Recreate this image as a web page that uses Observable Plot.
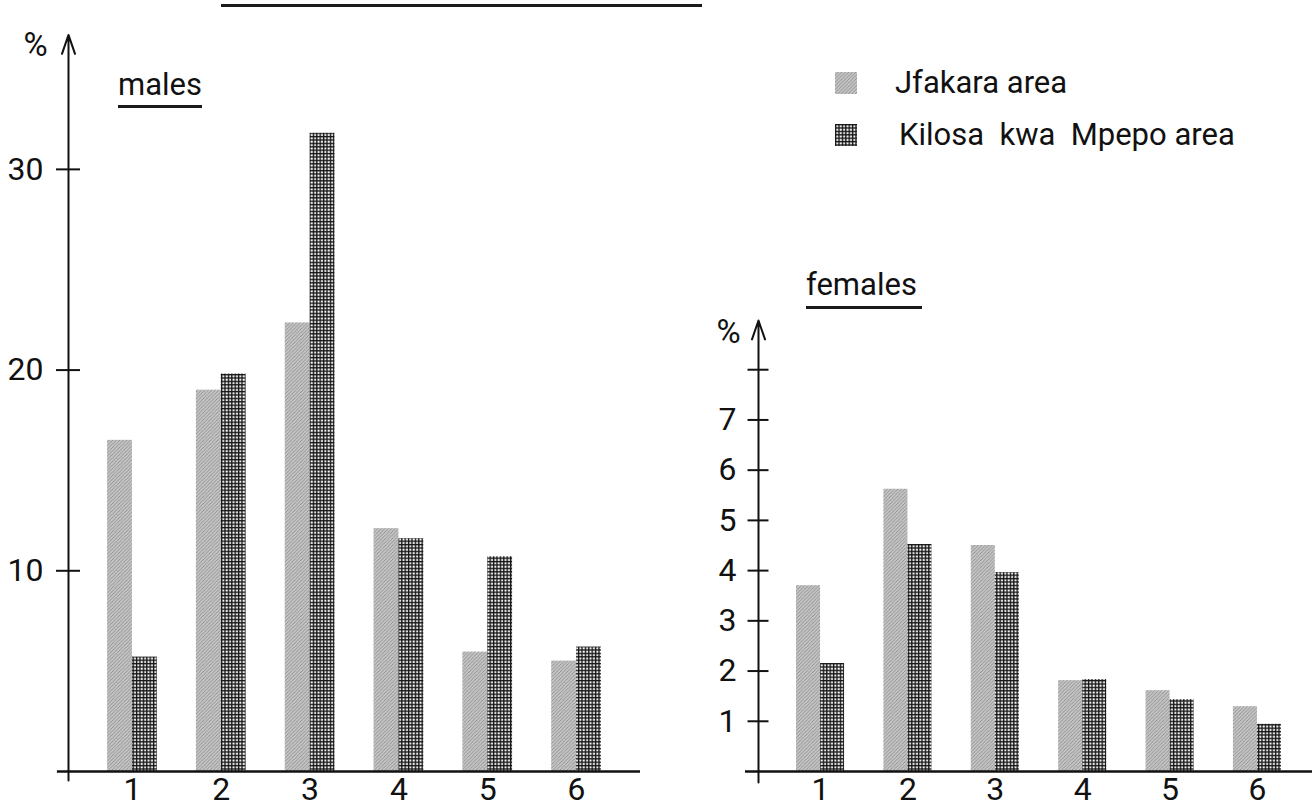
<!DOCTYPE html>
<html><head><meta charset="utf-8">
<script src="https://cdn.jsdelivr.net/npm/d3@7"></script>
<script src="https://cdn.jsdelivr.net/npm/@observablehq/plot@0.6"></script>
<style>
html,body{margin:0;padding:0;background:#fff;}
#root{position:relative;width:1312px;height:807px;overflow:hidden;font-family:Roboto,sans-serif;color:#111;}
.abs{position:absolute;}
.lbl{position:absolute;font-size:31px;line-height:31px;white-space:pre;color:#111;}
.uline{position:absolute;height:2.5px;background:#1a1a1a;}
.sw{position:absolute;width:22px;height:22px;}
</style></head><body>
<svg width="0" height="0" style="position:absolute">
<defs>
<pattern id="jpat" patternUnits="userSpaceOnUse" width="3.5" height="3.5">
<rect width="3.5" height="3.5" fill="#c4c4c4"/>
<path d="M-1,1 l2,-2 M0,3.5 l3.5,-3.5 M2.5,4.5 l2,-2" stroke="#858585" stroke-width="0.8"/>
<rect x="1" y="2" width="0.8" height="0.8" fill="#9a9a9a"/>
</pattern>
<pattern id="kpat" patternUnits="userSpaceOnUse" width="3.4" height="3.4">
<rect width="3.4" height="3.4" fill="#151515"/>
<rect x="1.3" y="1.3" width="2.0" height="2.0" fill="#ffffff"/>
</pattern>
</defs></svg>
<div id="root">
  <div class="uline" style="left:221px;top:4px;width:481px;"></div>
  <div class="lbl" id="malesLbl" style="left:118px;top:69px;"></div>
  <div class="uline" style="left:118px;top:105px;width:84px;"></div>
  <div class="lbl" id="femalesLbl" style="left:806px;top:269px;"></div>
  <div class="uline" style="left:806px;top:306px;width:116px;"></div>
  <svg class="sw" style="left:835px;top:72px;"><rect width="22" height="22" fill="url(#jpat)"/></svg>
  <div class="lbl" id="leg0" style="left:895px;top:67px;"></div>
  <svg class="sw" style="left:835px;top:124px;"><rect width="22" height="22" fill="url(#kpat)"/></svg>
  <div class="lbl" id="leg1" style="left:899px;top:119px;"></div>
  <div class="abs" id="malesPlot" style="left:0;top:0;"></div>
  <div class="abs" id="femalesPlot" style="left:680px;top:0;"></div>
</div>
<script>
const groups = [1, 2, 3, 4, 5, 6];
const seriesNames = ["Jfakara area", "Kilosa  kwa  Mpepo area"];
const panelTitles = ["males", "females"];
const malesJfakara = [16.5, 19.0, 22.35, 12.1, 5.95, 5.5];
const malesKilosa = [5.7, 19.8, 31.8, 11.6, 10.7, 6.2];
const femalesJfakara = [3.7, 5.62, 4.5, 1.81, 1.61, 1.29];
const femalesKilosa = [2.15, 4.52, 3.96, 1.83, 1.43, 0.94];
const malesTicks = [10, 20, 30];
const femalesTicks = [1, 2, 3, 4, 5, 6, 7, 8];
const femalesTickLabels = [1, 2, 3, 4, 5, 6, 7];

document.getElementById("malesLbl").textContent = panelTitles[0];
document.getElementById("femalesLbl").textContent = panelTitles[1];
document.getElementById("leg0").textContent = seriesNames[0];
document.getElementById("leg1").textContent = seriesNames[1];

const fills = ["url(#jpat)", "url(#kpat)"];

function panel({jf, ki, ticks, tickLabels, xDomain, yTop, width, marginLeft, marginRight, marginTop, baseFrom, axisBottom, barW, tickHalf, labelPad, pctDx, pctDy}) {
  const tabJ = groups.map((g, i) => ({group: g, value: jf[i]}));
  const tabK = groups.map((g, i) => ({group: g, value: ki[i]}));
  const ax = xDomain[0];
  return Plot.plot({
    width, height: 807,
    marginLeft, marginRight, marginTop, marginBottom: 36,
    style: {fontFamily: "Roboto, sans-serif", fontSize: "32px", background: "transparent", overflow: "visible", color: "#111"},
    x: {type: "linear", domain: xDomain},
    y: {domain: [0, yTop]},
    marks: [
      Plot.rectY(tabJ, {x1: d => d.group - barW, x2: "group", y: "value", fill: fills[0]}),
      Plot.rectY(tabK, {x1: "group", x2: d => d.group + barW, y: "value", fill: fills[1]}),
      Plot.ruleY([0], {x1: baseFrom, x2: xDomain[1], stroke: "#111", strokeWidth: 2.5}),
      Plot.arrow([0], {x1: ax, x2: ax, y1: axisBottom, y2: yTop, stroke: "#111", strokeWidth: 2, headLength: 15, headAngle: 38}),
      Plot.ruleY(ticks, {x1: ax - tickHalf, x2: ax + tickHalf, stroke: "#111", strokeWidth: 2}),
      Plot.axisY({ticks: tickLabels, tickSize: 0, tickPadding: labelPad, tickFormat: d => String(d), label: null, fontSize: 32}),
      Plot.axisX({ticks: groups, tickSize: 0, tickPadding: 6, tickFormat: d => String(d), label: null, fontSize: 32}),
      Plot.text(["%"], {x: ax, y: yTop, text: d => d, dx: pctDx, dy: pctDy, fontSize: 33})
    ]
  });
}

document.getElementById("malesPlot").append(panel({
  jf: malesJfakara, ki: malesKilosa, ticks: malesTicks, tickLabels: malesTicks,
  xDomain: [0.28, 6.72], yTop: 36.7, width: 700, marginLeft: 68, marginRight: 60, marginTop: 34.4,
  baseFrom: 0.155, axisBottom: -0.45, barW: 0.28, tickHalf: 0.135, labelPad: 25, pctDx: -33, pctDy: 11
}));
document.getElementById("femalesPlot").append(panel({
  jf: femalesJfakara, ki: femalesKilosa, ticks: femalesTicks, tickLabels: femalesTickLabels,
  xDomain: [0.29, 6.63], yTop: 8.98, width: 632, marginLeft: 78, marginRight: 0, marginTop: 320,
  baseFrom: 0.141, axisBottom: -0.22, barW: 0.275, tickHalf: 0.12, labelPad: 22, pctDx: -30, pctDy: 12
}));
</script>
</body></html>
